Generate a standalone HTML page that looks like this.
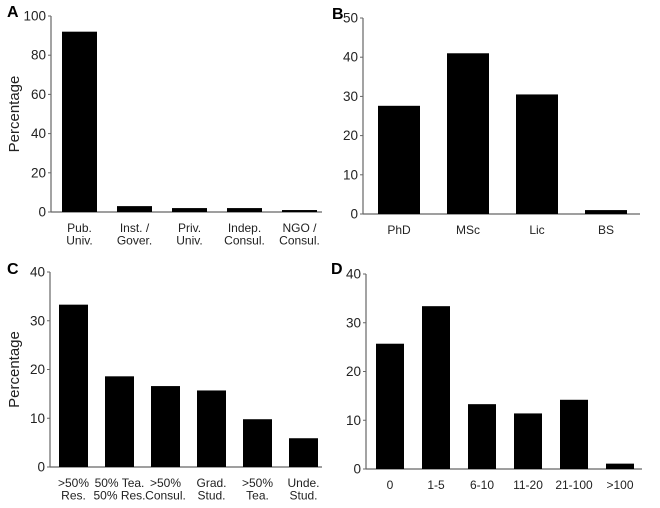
<!DOCTYPE html>
<html><head><meta charset="utf-8"><style>
html,body{margin:0;padding:0;background:#fff;}
svg{display:block;font-family:"Liberation Sans",sans-serif;}
</style></head><body>
<svg id="fig" width="660" height="508" viewBox="0 0 660 508" xmlns="http://www.w3.org/2000/svg"></svg>
<script>
const catsA = [["Pub.","Univ."],["Inst. /","Gover."],["Priv.","Univ."],["Indep.","Consul."],["NGO /","Consul."]];
const valsA = [92, 3, 2, 2, 1];
const ticksA = [0,20,40,60,80,100];
const catsB = [["PhD"],["MSc"],["Lic"],["BS"]];
const valsB = [27.6, 41, 30.5, 1];
const ticksB = [0,10,20,30,40,50];
const catsC = [[">50%","Res."],["50% Tea.","50% Res."],[">50%","Consul."],["Grad.","Stud."],[">50%","Tea."],["Unde.","Stud."]];
const valsC = [33.3, 18.6, 16.6, 15.7, 9.8, 5.9];
const ticksC = [0,10,20,30,40];
const catsD = [["0"],["1-5"],["6-10"],["11-20"],["21-100"],[">100"]];
const valsD = [25.7, 33.4, 13.3, 11.4, 14.2, 1.1];
const ticksD = [0,10,20,30,40];

const NS="http://www.w3.org/2000/svg";
const svg=document.getElementById('fig');
function mk(tag,attrs,parent){const e=document.createElementNS(NS,tag);for(const k in attrs)e.setAttribute(k,attrs[k]);(parent||svg).appendChild(e);return e;}

function panel(p){
  const g=mk('g',{});
  
  
  const ymax=p.ticks[p.ticks.length-1];
  const y=v=>p.y0-(v/ymax)*(p.y0-p.ytop);
  const x=i=>p.firstBar+i*p.step;
  const L=mk('text',{x:p.lx,y:p.ly,'font-size':16,'font-weight':'bold',fill:'#000'},g);L.textContent=p.id;
  
  
  const ya=mk('line',{x1:p.ax,y1:p.ytop,x2:p.ax,y2:p.y0,stroke:'#666','stroke-width':1.2},g);
  
  
  const xa=mk('line',{x1:p.ax,y1:p.y0,x2:p.xend,y2:p.y0,stroke:'#666','stroke-width':1.2},g);
  
  
  p.ticks.forEach(t=>{
    mk('line',{x1:p.ax-3,y1:y(t),x2:p.ax,y2:y(t),stroke:'#666','stroke-width':1},g);
    const tl=mk('text',{x:p.ax-5,y:y(t)+4.5,'font-size':13.5,'text-anchor':'end',fill:'#222'},g);
    tl.textContent=t;
    
    
  });
  p.vals.forEach((v,i)=>{
    const r=mk('rect',{x:x(i),y:y(v),width:p.bw,height:p.y0-y(v),fill:'#000'},g);
    
    
    p.cats[i].forEach((s,j)=>{
      const t=mk('text',{x:x(i)+p.bw/2,y:p.y0+20+j*12.5,'font-size':12,'text-anchor':'middle',fill:'#222'},g);
      t.textContent=s;
      
      
    });
  });
  if(p.ylab){
    const yl=mk('text',{x:0,y:0,'font-size':15,'text-anchor':'middle',fill:'#222',transform:`translate(${p.ylx},${(p.ytop+p.y0)/2}) rotate(-90)`},g);
    yl.textContent='Percentage';
    
    
  }
}
panel({id:'A',cats:catsA,vals:valsA,ticks:ticksA,ax:51,ytop:16,y0:212,xend:322,firstBar:62,step:55,bw:35,lx:7,ly:17,ylab:true,ylx:19});
panel({id:'B',cats:catsB,vals:valsB,ticks:ticksB,ax:363,ytop:18,y0:214,xend:640,firstBar:378,step:69,bw:42,lx:332,ly:19,ylab:false});
panel({id:'C',cats:catsC,vals:valsC,ticks:ticksC,ax:50,ytop:272,y0:467,xend:322,firstBar:59,step:46,bw:29,lx:7,ly:274,ylab:true,ylx:19});
panel({id:'D',cats:catsD,vals:valsD,ticks:ticksD,ax:366,ytop:274,y0:469,xend:642,firstBar:376,step:46,bw:28,lx:331,ly:274,ylab:false});
</script>
</body></html>
